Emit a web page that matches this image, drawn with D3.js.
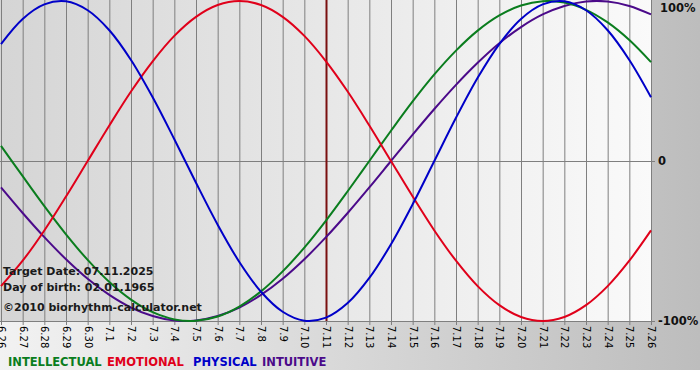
<!DOCTYPE html>
<html><head><meta charset="utf-8">
<script src="https://cdn.jsdelivr.net/npm/d3@7"></script>
<style>html,body{margin:0;padding:0;background:#fff;}svg{display:block;}</style>
</head><body>
<script>
const dates = ["6.26","6.27","6.28","6.29","6.30","7.1","7.2","7.3","7.4","7.5","7.6","7.7","7.8","7.9","7.10","7.11","7.12","7.13","7.14","7.15","7.16","7.17","7.18","7.19","7.20","7.21","7.22","7.23","7.24","7.25","7.26"];
const physical = [0.731,0.888,0.979,0.998,0.942,0.817,0.631,0.398,0.136,-0.136,-0.398,-0.631,-0.817,-0.942,-0.998,-0.979,-0.888,-0.731,-0.520,-0.270,0,0.270,0.520,0.731,0.888,0.979,0.998,0.942,0.817,0.631,0.398];
const emotional = [-0.782,-0.623,-0.434,-0.222,0,0.222,0.434,0.623,0.782,0.901,0.975,1,0.975,0.901,0.782,0.623,0.434,0.222,0,-0.222,-0.434,-0.623,-0.782,-0.901,-0.975,-1,-0.975,-0.901,-0.782,-0.623,-0.434];
const intellectual = [0.095,-0.095,-0.282,-0.458,-0.618,-0.756,-0.866,-0.945,-0.990,-0.999,-0.972,-0.910,-0.815,-0.690,-0.541,-0.372,-0.189,0,0.189,0.372,0.541,0.690,0.815,0.910,0.972,0.999,0.990,0.945,0.866,0.756,0.618];
const intuitive = [-0.165,-0.325,-0.476,-0.614,-0.736,-0.837,-0.916,-0.969,-0.997,-0.997,-0.969,-0.916,-0.837,-0.736,-0.614,-0.476,-0.325,-0.165,0,0.165,0.325,0.476,0.614,0.736,0.837,0.916,0.969,0.997,0.997,0.969,0.916];
const yTicks = [1, 0, -1];
const yTickLabels = ["100%", "0", "-100%"];
const targetDate = "7.11";
const legendNames = ["INTELLECTUAL", "EMOTIONAL", "PHYSICAL", "INTUITIVE"];
const infoLines = ["Target Date: 07.11.2025", "Day of birth: 02.01.1965", "\u00a92010 biorhythm-calculator.net"];

const W = 700, H = 380;
const svg = d3.select("body").append("svg").attr("width", W).attr("height", H);
const defs = svg.append("defs");
const g1 = defs.append("linearGradient").attr("id","outerGrad").attr("x1","0").attr("x2","1").attr("y1","0").attr("y2","0");
g1.append("stop").attr("offset","0").attr("stop-color","#f2f2f2");
g1.append("stop").attr("offset","1").attr("stop-color","#bdbdbd");
const g2 = defs.append("linearGradient").attr("id","plotGrad").attr("x1","0").attr("x2","1").attr("y1","0").attr("y2","0");
g2.append("stop").attr("offset","0").attr("stop-color","#d5d5d5");
g2.append("stop").attr("offset","1").attr("stop-color","#fafafa");

svg.append("rect").attr("x",0).attr("y",0).attr("width",W).attr("height",370).attr("fill","url(#outerGrad)");

const pLeft = 1, pRight = 651, pTop = 1, pBottom = 321;
const x = d3.scalePoint().domain(dates).range([pLeft, pRight]);
const y = d3.scaleLinear().domain([-1, 1]).range([pBottom, pTop]);

svg.append("rect").attr("x",0).attr("y",0).attr("width",pRight+1).attr("height",pBottom).attr("fill","url(#plotGrad)");

// vertical grid
svg.append("g").selectAll("line").data(dates).join("line")
  .attr("x1", d => x(d) + 0.5).attr("x2", d => x(d) + 0.5)
  .attr("y1", 0).attr("y2", pBottom + 4)
  .attr("stroke", "#7f7f7f").attr("stroke-width", 1);

// zero line and bottom axis
svg.append("line").attr("x1",0).attr("x2",pRight+4).attr("y1",Math.round(y(0))+0.5).attr("y2",Math.round(y(0))+0.5).attr("stroke","#7f7f7f");
svg.append("line").attr("x1",0).attr("x2",pRight+4).attr("y1",pBottom+0.5).attr("y2",pBottom+0.5).attr("stroke","#7f7f7f");

// x tick labels rotated
svg.append("g").selectAll("text").data(dates).join("text")
  .attr("transform", d => `translate(${x(d)+0.5},${pBottom+5}) rotate(90)`)
  .attr("dy","0.35em")
  .attr("text-anchor","start")
  .attr("font-family","DejaVu Sans, Verdana, sans-serif")
  .attr("font-size","10px")
  .attr("fill","#000")
  .text(d => d);

// y labels on the right
svg.append("g").selectAll("text").data(yTicks).join("text")
  .attr("x", (d,i) => i===0 ? 660 : 658)
  .attr("y", d => d === 1 ? 12 : y(d))
  .attr("dy", d => d === 1 ? "0" : "0.35em")
  .attr("font-family","DejaVu Sans, Verdana, sans-serif")
  .attr("font-weight","bold")
  .attr("font-size","11.5px")
  .attr("fill","#111")
  .text((d,i) => yTickLabels[i]);

// target date line
svg.append("line").attr("x1",x(targetDate)+0.5).attr("x2",x(targetDate)+0.5).attr("y1",0).attr("y2",pBottom)
  .attr("stroke","#7a1010").attr("stroke-width",2);

const series = [
  {name: legendNames[0], vals: intellectual, color: "#0a7d1e"},
  {name: legendNames[1], vals: emotional, color: "#e0001a"},
  {name: legendNames[2], vals: physical, color: "#0000c8"},
  {name: legendNames[3], vals: intuitive, color: "#4b0a8a"}
];
const line = d3.line().x((d,i) => x(dates[i])).y(d => y(d)).curve(d3.curveCatmullRom.alpha(0.5));
const drawOrder = [3, 0, 1, 2];
svg.append("g").selectAll("path").data(drawOrder.map(i => series[i])).join("path")
  .attr("d", d => line(d.vals))
  .attr("fill","none").attr("stroke", d => d.color).attr("stroke-width", 2);

// info text
svg.append("g").selectAll("text").data(infoLines).join("text")
  .attr("x", 3).attr("y", (d,i) => [275, 291, 311][i])
  .attr("font-family","DejaVu Sans, Verdana, sans-serif")
  .attr("font-weight","bold").attr("font-size","11px")
  .attr("fill","#1a1a1a")
  .text(d => d);

// legend
const legendX = [8, 107, 193, 262];
svg.append("g").selectAll("text").data(series).join("text")
  .attr("x", (d,i) => legendX[i]).attr("y", 366)
  .attr("font-family","DejaVu Sans, Verdana, sans-serif")
  .attr("font-weight","bold").attr("font-size","11.5px")
  .attr("fill", d => d.color)
  .text(d => d.name);
</script>
</body></html>
